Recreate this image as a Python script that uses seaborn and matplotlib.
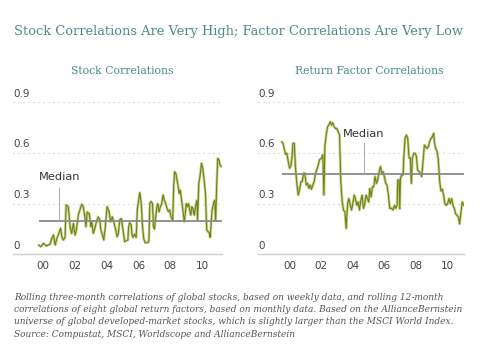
import matplotlib
matplotlib.use('Agg')
import matplotlib.pyplot as plt
import seaborn as sns
import pandas as pd

sns.set_style('white')

# stock correlations (rolling three-month)
stock_years = [1999.71, 1999.85, 2000.02, 2000.2, 2000.44, 2000.54, 2000.65, 2000.75,
               2000.85, 2001.02, 2001.1, 2001.17, 2001.27, 2001.375, 2001.44, 2001.58,
               2001.69, 2001.79, 2001.9, 2002.0, 2002.1, 2002.21, 2002.31, 2002.42,
               2002.52, 2002.625, 2002.69, 2002.77, 2002.9, 2003.0, 2003.06, 2003.15,
               2003.25, 2003.35, 2003.46, 2003.56, 2003.625, 2003.73, 2003.81, 2003.9,
               2004.02, 2004.15, 2004.23, 2004.35, 2004.44, 2004.56, 2004.65, 2004.73,
               2004.81, 2004.92, 2005.02, 2005.125, 2005.23, 2005.33, 2005.375, 2005.44,
               2005.54, 2005.58, 2005.65, 2005.75, 2005.85, 2005.92, 2006.0, 2006.08,
               2006.17, 2006.25, 2006.33, 2006.42, 2006.58, 2006.65, 2006.71, 2006.79,
               2006.875, 2006.94, 2007.0, 2007.08, 2007.15, 2007.21, 2007.29, 2007.375,
               2007.46, 2007.54, 2007.625, 2007.71, 2007.79, 2007.875, 2007.96, 2008.04,
               2008.15, 2008.21, 2008.27, 2008.35, 2008.46, 2008.56, 2008.625, 2008.71,
               2008.79, 2008.875, 2008.94, 2009.0, 2009.08, 2009.15, 2009.21, 2009.29,
               2009.35, 2009.42, 2009.5, 2009.58, 2009.67, 2009.71, 2009.79, 2009.875,
               2009.96, 2010.04, 2010.125, 2010.21, 2010.29, 2010.375, 2010.46, 2010.5,
               2010.54, 2010.625, 2010.71, 2010.79, 2010.85, 2010.92, 2010.98, 2011.06,
               2011.125, 2011.21]
stock_corr = [0.055, 0.045, 0.065, 0.05, 0.06, 0.095, 0.114, 0.055,
              0.09, 0.134, 0.154, 0.104, 0.085, 0.10, 0.292, 0.282,
              0.163, 0.124, 0.183, 0.114, 0.15, 0.233, 0.262, 0.296,
              0.282, 0.222, 0.163, 0.25, 0.24, 0.163, 0.193, 0.124,
              0.154, 0.193, 0.222, 0.203, 0.144, 0.114, 0.085, 0.154,
              0.282, 0.252, 0.193, 0.222, 0.193, 0.144, 0.104, 0.124,
              0.203, 0.212, 0.144, 0.075, 0.08, 0.085, 0.163, 0.187,
              0.175, 0.12, 0.10, 0.12, 0.10, 0.262, 0.32, 0.365,
              0.30, 0.163, 0.09, 0.069, 0.069, 0.08, 0.303, 0.313,
              0.30, 0.163, 0.15, 0.222, 0.282, 0.30, 0.252, 0.282,
              0.30, 0.351, 0.32, 0.30, 0.272, 0.252, 0.262, 0.222,
              0.203, 0.40, 0.489, 0.479, 0.42, 0.36, 0.38, 0.32,
              0.262, 0.193, 0.24, 0.30, 0.282, 0.30, 0.262, 0.232,
              0.282, 0.272, 0.232, 0.282, 0.32, 0.203, 0.42, 0.469,
              0.539, 0.51, 0.44, 0.36, 0.144, 0.134, 0.124, 0.10,
              0.144, 0.262, 0.30, 0.32, 0.20, 0.42, 0.568, 0.56,
              0.529, 0.52]

# return factor correlations (rolling 12-month)
factor_years = [1999.50, 1999.58, 1999.66, 1999.75, 1999.83, 1999.92, 2000.00, 2000.09,
                2000.17, 2000.21, 2000.30, 2000.38, 2000.47, 2000.55, 2000.63, 2000.72,
                2000.80, 2000.89, 2000.97, 2001.06, 2001.14, 2001.23, 2001.31, 2001.39,
                2001.48, 2001.56, 2001.65, 2001.73, 2001.82, 2001.90, 2002.03, 2002.11,
                2002.18, 2002.24, 2002.32, 2002.41, 2002.49, 2002.58, 2002.66, 2002.74,
                2002.83, 2002.91, 2003.00, 2003.08, 2003.17, 2003.25, 2003.34, 2003.42,
                2003.51, 2003.59, 2003.68, 2003.76, 2003.85, 2003.93, 2004.01, 2004.10,
                2004.18, 2004.27, 2004.35, 2004.43, 2004.52, 2004.60, 2004.69, 2004.77,
                2004.85, 2004.94, 2005.02, 2005.09, 2005.17, 2005.26, 2005.34, 2005.42,
                2005.51, 2005.59, 2005.68, 2005.76, 2005.85, 2005.93, 2006.01, 2006.10,
                2006.18, 2006.27, 2006.35, 2006.48, 2006.56, 2006.65, 2006.73, 2006.82,
                2006.86, 2006.94, 2006.99, 2007.03, 2007.11, 2007.20, 2007.24, 2007.32,
                2007.41, 2007.49, 2007.58, 2007.66, 2007.72, 2007.79, 2007.87, 2007.96,
                2008.04, 2008.12, 2008.21, 2008.29, 2008.38, 2008.46, 2008.55, 2008.63,
                2008.72, 2008.80, 2008.88, 2008.97, 2009.05, 2009.14, 2009.18, 2009.26,
                2009.35, 2009.43, 2009.52, 2009.60, 2009.69, 2009.77, 2009.85, 2009.94,
                2010.02, 2010.11, 2010.19, 2010.28, 2010.36, 2010.45, 2010.53, 2010.61,
                2010.70, 2010.78, 2010.87, 2010.95, 2011.03]
factor_corr = [0.667, 0.657, 0.627, 0.592, 0.598, 0.548, 0.509, 0.525,
               0.59, 0.657, 0.657, 0.51, 0.41, 0.351, 0.38, 0.43,
               0.43, 0.48, 0.48, 0.41, 0.42, 0.39, 0.41, 0.385,
               0.41, 0.43, 0.48, 0.50, 0.53, 0.56, 0.57, 0.59,
               0.351, 0.64, 0.706, 0.755, 0.765, 0.785, 0.765, 0.78,
               0.755, 0.745, 0.745, 0.726, 0.706, 0.43, 0.31, 0.262,
               0.252, 0.154, 0.30, 0.33, 0.29, 0.262, 0.30, 0.35,
               0.33, 0.29, 0.31, 0.262, 0.32, 0.35, 0.272, 0.30,
               0.35, 0.33, 0.31, 0.39, 0.34, 0.40, 0.40, 0.46,
               0.42, 0.44, 0.489, 0.519, 0.48, 0.49, 0.46, 0.42,
               0.41, 0.351, 0.272, 0.272, 0.262, 0.29, 0.272, 0.29,
               0.44, 0.44, 0.27, 0.45, 0.47, 0.47, 0.568, 0.687,
               0.706, 0.687, 0.57, 0.57, 0.42, 0.57, 0.598, 0.598,
               0.58, 0.50, 0.49, 0.48, 0.46, 0.548, 0.647, 0.637,
               0.627, 0.637, 0.667, 0.687, 0.696, 0.716, 0.667, 0.627,
               0.61, 0.56, 0.43, 0.375, 0.385, 0.35, 0.30, 0.29,
               0.30, 0.33, 0.30, 0.33, 0.29, 0.27, 0.24, 0.232,
               0.222, 0.18, 0.25, 0.31, 0.29]

medians = [0.20, 0.474]
# where the "Median" labels sit: (label year, label value, leader year, leader top)
median_labels = [(1999.7, 0.46, 2001.0, 0.40), (2004.7, 0.71, 2004.75, 0.667)]
label_align = ['left', 'center']

panel_titles = ['Stock Correlations', 'Return Factor Correlations']
y_ticks = [0, 0.3, 0.6, 0.9]
y_tick_labels = ['0', '0.3', '0.6', '0.9']
x_ticks = [2000, 2002, 2004, 2006, 2008, 2010]
x_tick_labels = ['00', '02', '04', '06', '08', '10']
x_limits = [(1998.1, 2011.25), (1998.0, 2011.06)]

title = 'Stock Correlations Are Very High; Factor Correlations Are Very Low'
footnote = ('Rolling three-month correlations of global stocks, based on weekly data, and rolling 12-month\n'
            'correlations of eight global return factors, based on monthly data. Based on the AllianceBernstein\n'
            'universe of global developed-market stocks, which is slightly larger than the MSCI World Index.\n'
            'Source: Compustat, MSCI, Worldscope and AllianceBernstein')

teal = '#4b8c89'
dark_line = '#6f8012'
light_line = '#c0cf88'

frames = [pd.DataFrame({'year': stock_years, 'corr': stock_corr}),
          pd.DataFrame({'year': factor_years, 'corr': factor_corr})]

fig = plt.figure(figsize=(4.8, 3.62), dpi=100)
axes = [fig.add_axes([13 / 480, 1 - 254.3 / 362, 209 / 480, 152 / 362]),
        fig.add_axes([258 / 480, 1 - 254.3 / 362, 206 / 480, 152 / 362])]
subtitle_x = [122.5 / 480, 369 / 480]

fig.text(14 / 480, 1 - 31.5 / 362, title, family='DejaVu Serif', fontsize=9.4,
         color=teal, va='center', ha='left')

for i, ax in enumerate(axes):
    df = frames[i]
    # light halo under a thin dark line, like the original's rendering
    sns.lineplot(data=df, x='year', y='corr', ax=ax, color=light_line,
                 linewidth=1.9, estimator=None, sort=False)
    sns.lineplot(data=df, x='year', y='corr', ax=ax, color=dark_line,
                 linewidth=0.75, estimator=None, sort=False)

    ax.set_xlim(*x_limits[i])
    ax.set_ylim(0, 0.9)
    ax.set_xlabel('')
    ax.set_ylabel('')
    for s in ['top', 'right', 'left']:
        ax.spines[s].set_visible(False)
    ax.spines['bottom'].set_color('#cfcfcf')
    ax.spines['bottom'].set_linewidth(1.0)
    ax.spines['bottom'].set_zorder(0)

    for v in y_ticks[1:]:
        ax.axhline(v, color='#c4c4c4', linewidth=0.8, linestyle=(0, (1, 3.5)), zorder=0)
    ax.set_yticks([])
    for v, lab in zip(y_ticks, y_tick_labels):
        ax.annotate(lab, xy=(0, v), xycoords=('axes fraction', 'data'),
                    xytext=(0, 2.5), textcoords='offset points',
                    ha='left', va='bottom', fontsize=7.5, color='#444444')

    ax.set_xticks(x_ticks)
    ax.set_xticklabels(x_tick_labels)
    ax.tick_params(axis='x', length=0, pad=4.5, labelsize=7.5, labelcolor='#444444')

    # median line and label
    ax.hlines(medians[i], df['year'].iloc[0], x_limits[i][1], color='#8a8a8a',
              linewidth=1.3, zorder=3)
    lx, ly, px, py = median_labels[i]
    ax.vlines(px, medians[i], py, color='#aaaaaa', linewidth=0.7, zorder=3)
    ax.text(lx, ly, 'Median', ha=label_align[i], va='center', fontsize=8.2,
            color='#333333')

    fig.text(subtitle_x[i], 1 - 71 / 362, panel_titles[i], family='DejaVu Serif',
             fontsize=7.8, color=teal, ha='center', va='center')

fig.text(14 / 480, 1 - 292.5 / 362, footnote, family='DejaVu Serif', style='italic',
         fontsize=6.5, color='#555555', va='top', ha='left', linespacing=1.5)

fig.savefig('out.png', dpi=100, facecolor='white')
